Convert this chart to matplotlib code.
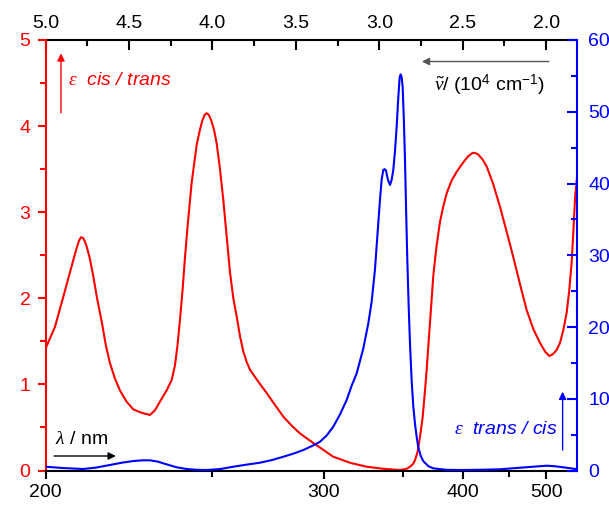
import matplotlib.pyplot as plt
from matplotlib.ticker import MultipleLocator, FixedLocator, FormatStrFormatter

plt.rcParams['font.family'] = 'Liberation Sans'
plt.rcParams['mathtext.fontset'] = 'custom'
plt.rcParams['mathtext.rm'] = 'Liberation Sans'
plt.rcParams['mathtext.it'] = 'Liberation Serif:italic'
plt.rcParams['mathtext.bf'] = 'Liberation Sans:bold'

RED = '#ff0000'
BLUE = '#0000ff'

# cis/trans spectrum, wavenumber in 10^4 cm^-1 (left axis)
nu_ct = [5.000, 4.944, 4.894, 4.835, 4.815, 4.800, 4.788, 4.776, 4.765, 4.754,
         4.735, 4.715, 4.690, 4.664, 4.640, 4.615, 4.585, 4.555, 4.515, 4.475,
         4.425, 4.375, 4.345, 4.315, 4.275, 4.245, 4.225, 4.210, 4.195, 4.180,
         4.165, 4.150, 4.125, 4.095, 4.075, 4.060, 4.047, 4.035, 4.022, 4.008,
         3.990, 3.975, 3.955, 3.935, 3.915, 3.895, 3.875, 3.855, 3.835, 3.815,
         3.795, 3.775, 3.725, 3.675, 3.625, 3.575, 3.525, 3.475, 3.396, 3.336,
         3.276, 3.176, 3.076, 2.976, 2.876, 2.836, 2.816, 2.796, 2.786, 2.770,
         2.756, 2.740, 2.726, 2.716, 2.696, 2.676, 2.656, 2.636, 2.616, 2.596,
         2.566, 2.536, 2.496, 2.467, 2.447, 2.437, 2.422, 2.407, 2.380, 2.356,
         2.316, 2.276, 2.236, 2.197, 2.156, 2.116, 2.076, 2.036, 2.006, 1.981,
         1.960, 1.937, 1.917, 1.897, 1.877, 1.862, 1.847, 1.836, 1.826, 1.815]
eps_ct = [1.42, 1.67, 2.02, 2.44, 2.58, 2.67, 2.71, 2.70, 2.66, 2.60,
          2.46, 2.26, 1.98, 1.73, 1.46, 1.25, 1.07, 0.93, 0.80, 0.71,
          0.67, 0.645, 0.70, 0.80, 0.93, 1.05, 1.22, 1.45, 1.75, 2.08,
          2.47, 2.82, 3.34, 3.78, 3.96, 4.07, 4.13, 4.15, 4.13, 4.07,
          3.95, 3.80, 3.50, 3.14, 2.72, 2.30, 2.00, 1.79, 1.56, 1.38,
          1.26, 1.17, 1.03, 0.90, 0.76, 0.625, 0.52, 0.43, 0.32, 0.24,
          0.16, 0.09, 0.044, 0.02, 0.006, 0.02, 0.044, 0.08, 0.12, 0.22,
          0.39, 0.62, 0.93, 1.17, 1.72, 2.27, 2.62, 2.89, 3.07, 3.22,
          3.37, 3.47, 3.58, 3.65, 3.68, 3.69, 3.685, 3.67, 3.61, 3.53,
          3.32, 3.06, 2.77, 2.48, 2.16, 1.86, 1.64, 1.48, 1.38, 1.33,
          1.35, 1.40, 1.48, 1.63, 1.83, 2.08, 2.41, 2.80, 3.18, 3.40]

# trans/cis spectrum (right axis)
nu_tc = [5.000, 4.900, 4.775, 4.700, 4.615, 4.540, 4.475, 4.420, 4.375, 4.330,
         4.275, 4.215, 4.155, 4.095, 4.035, 3.955, 3.875, 3.795, 3.715, 3.645,
         3.575, 3.515, 3.455, 3.405, 3.356, 3.315, 3.276, 3.236, 3.196, 3.166,
         3.136, 3.096, 3.066, 3.046, 3.026, 3.006, 2.996, 2.986, 2.976, 2.968,
         2.960, 2.948, 2.936, 2.926, 2.916, 2.906, 2.896, 2.886, 2.878, 2.872,
         2.866, 2.860, 2.853, 2.846, 2.839, 2.832, 2.824, 2.816, 2.806, 2.796,
         2.786, 2.776, 2.766, 2.751, 2.736, 2.706, 2.676, 2.600, 2.516, 2.400,
         2.276, 2.177, 2.077, 1.997, 1.950, 1.897, 1.850, 1.815]
eps_tc = [0.53, 0.35, 0.21, 0.40, 0.77, 1.10, 1.32, 1.42, 1.42, 1.25,
          0.86, 0.45, 0.21, 0.10, 0.07, 0.20, 0.53, 0.82, 1.09, 1.45,
          1.92, 2.35, 2.86, 3.40, 4.00, 4.90, 6.10, 7.80, 9.80, 11.8,
          13.5, 17.0, 20.5, 23.5, 28.0, 34.5, 37.7, 40.5, 41.9, 42.0,
          41.8, 40.5, 39.8, 40.5, 41.9, 44.5, 47.9, 52.0, 54.8, 55.2,
          54.8, 53.5, 49.0, 43.3, 36.0, 29.3, 23.0, 17.7, 12.5, 8.9,
          6.5, 4.7, 3.2, 2.0, 1.3, 0.6, 0.30, 0.10, 0.07, 0.10,
          0.17, 0.35, 0.53, 0.67, 0.60, 0.45, 0.30, 0.17]

# wavelength ticks on the bottom axis (nm)
wl_major = [200, 300, 400, 500]
wl_minor = [250, 350, 450]
# wavenumber ticks on the top axis (10^4 cm^-1)
wn_major = [5.0, 4.5, 4.0, 3.5, 3.0, 2.5, 2.0]
wn_minor = [4.75, 4.25, 3.75, 3.25, 2.75, 2.25]

fig = plt.figure(figsize=(6.09, 5.05), dpi=100)
ax = fig.add_axes([0.075, 0.0683, 0.8724, 0.8525])

ax.plot(nu_ct, eps_ct, color=RED, lw=1.5)
ax.set_xlim(5.0, 1.815)
ax.set_ylim(0, 5)

ax2 = ax.twinx()
ax2.plot(nu_tc, eps_tc, color=BLUE, lw=1.5)
ax2.set_ylim(0, 60)

# bottom: wavelength, placed at 1000/lambda
ax.set_xticks([1000 / w for w in wl_major], [str(w) for w in wl_major])
ax.set_xticks([1000 / w for w in wl_minor], minor=True)
ax.tick_params(axis='x', which='major', direction='out', length=6, width=1.5,
               labelsize=14, pad=4)
ax.tick_params(axis='x', which='minor', direction='out', length=4, width=1.5)

# top: wavenumber
secax = ax.secondary_xaxis('top')
secax.xaxis.set_major_locator(FixedLocator(wn_major))
secax.xaxis.set_minor_locator(FixedLocator(wn_minor))
secax.xaxis.set_major_formatter(FormatStrFormatter('%.1f'))
secax.tick_params(which='major', direction='in', length=7, width=1.5,
                  labelsize=14, pad=6)
secax.tick_params(which='minor', direction='in', length=4, width=1.5)
secax.spines['top'].set_linewidth(1.5)

# left axis (red)
ax.yaxis.set_major_locator(MultipleLocator(1))
ax.yaxis.set_minor_locator(MultipleLocator(0.5))
ax.tick_params(axis='y', which='major', direction='out', length=6, width=1.5,
               colors=RED, labelsize=14, pad=5)
ax.tick_params(axis='y', which='minor', direction='out', length=4, width=1.5,
               colors=RED)

# right axis (blue)
ax2.yaxis.set_major_locator(MultipleLocator(10))
ax2.yaxis.set_minor_locator(MultipleLocator(5))
ax2.tick_params(axis='y', which='major', direction='in', length=7, width=1.5,
                colors=BLUE, labelsize=14, pad=8)
ax2.tick_params(axis='y', which='minor', direction='in', length=4, width=1.5,
                colors=BLUE)

ax.spines['left'].set_color(RED)
ax.spines['right'].set_visible(False)
ax.spines['top'].set_visible(False)
ax2.spines['left'].set_visible(False)
ax2.spines['top'].set_visible(False)
ax2.spines['bottom'].set_visible(False)
ax2.spines['right'].set_color(BLUE)
for sp in ['left', 'bottom']:
    ax.spines[sp].set_linewidth(1.5)
ax2.spines['right'].set_linewidth(1.5)

# axis annotations with arrows
arrow = dict(arrowstyle='-|>', lw=1.0, mutation_scale=11, shrinkA=0, shrinkB=0)

ax2.annotate('', xy=(0.0288, 0.969), xytext=(0.0288, 0.831),
             xycoords='axes fraction', arrowprops=dict(arrow, color=RED))
ax2.text(0.042, 0.907, r'$\varepsilon$  cis / trans', transform=ax2.transAxes,
         color=RED, style='italic', fontsize=14, ha='left', va='center')

ax2.annotate('', xy=(0.973, 0.183), xytext=(0.973, 0.0476),
             xycoords='axes fraction', arrowprops=dict(arrow, color=BLUE))
ax2.text(0.964, 0.0964, r'$\varepsilon$  trans / cis', transform=ax2.transAxes,
         color=BLUE, style='italic', fontsize=14, ha='right', va='center')

ax2.annotate('', xy=(0.708, 0.950), xytext=(0.947, 0.950),
             xycoords='axes fraction', arrowprops=dict(arrow, color='#555555'))
ax2.text(0.940, 0.895, r'$\tilde{\nu}$/ (10$^4$ cm$^{-1}$)',
         transform=ax2.transAxes, color='black', fontsize=14,
         ha='right', va='center')

ax2.annotate('', xy=(0.132, 0.0337), xytext=(0.016, 0.0337),
             xycoords='axes fraction', arrowprops=dict(arrow, color='black'))
ax2.text(0.0175, 0.071, r'$\lambda$ / nm', transform=ax2.transAxes,
         color='black', fontsize=14, ha='left', va='center')

fig.savefig('out.png', dpi=100)
